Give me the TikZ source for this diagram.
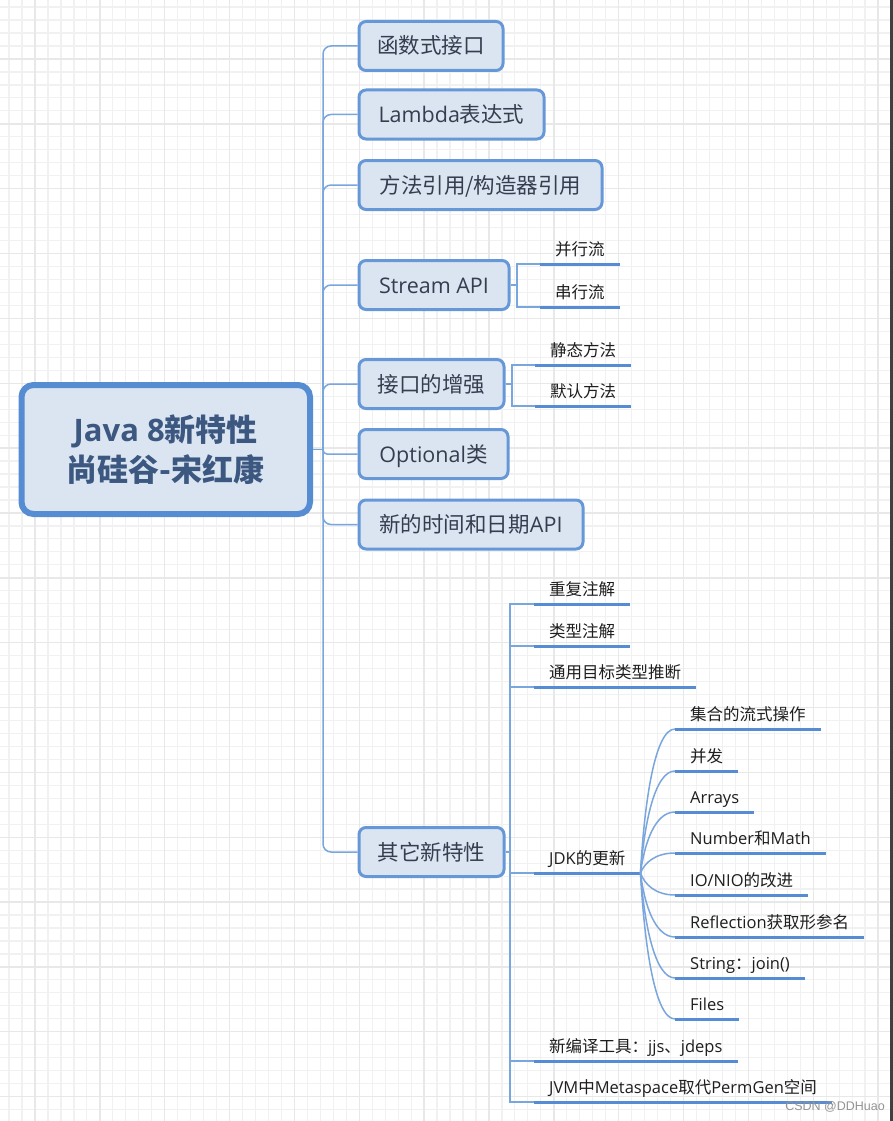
\documentclass[tikz,border=0pt]{standalone}
\usepackage{fontspec}
\setmainfont{Noto Sans CJK SC}
\newfontfamily\lat{Open Sans}
\newfontfamily\wmfont{Liberation Sans}
\newcommand{\ltn}[1]{{\lat #1}}

\definecolor{boxfill}{RGB}{219,229,242}
\definecolor{boxline}{RGB}{102,152,216}
\definecolor{rootline}{RGB}{86,140,210}
\definecolor{connline}{RGB}{122,166,222}
\definecolor{leafline}{RGB}{86,140,212}
\definecolor{boxtext}{RGB}{52,62,78}
\definecolor{roottext}{RGB}{60,88,128}
\definecolor{leaftext}{RGB}{30,30,30}
\definecolor{minorgrid}{RGB}{241,241,241}
\definecolor{majorgrid}{RGB}{232,232,232}

\tikzset{
  rootbox/.style={draw=rootline, line width=6pt, fill=boxfill, rounded corners=12pt,
    minimum width=288.5pt, minimum height=129pt, align=center, text=roottext,
    font=\bfseries\fontsize{31}{40}\selectfont},
  box/.style={draw=boxline, line width=3pt, fill=boxfill, rounded corners=7pt,
    minimum height=49pt, anchor=west, inner xsep=0pt, text=boxtext,
    text height=18pt, text depth=2pt, font=\fontsize{21.5}{25}\selectfont},
  leaf/.style={anchor=south west, inner xsep=15pt, inner ysep=8pt, text depth=0pt,
    text=leaftext, font=\fontsize{16.5}{20}\selectfont},
  conn/.style={draw=connline, line width=1.5pt},
  under/.style={draw=leafline, line width=3pt},
  wmark/.style={text=black!42, font=\wmfont\fontsize{12.5}{14}\selectfont}
}

\begin{document}
\begin{tikzpicture}[x=1pt, y=1pt, yscale=-1]
  % background and grid
  \fill[white] (0,0) rectangle (893,1121);
  \useasboundingbox (0,0) rectangle (893,1121);
  \begin{scope}[shift={(9.06,7.1)}]
    \draw[minorgrid, line width=1.2pt] (-9.06,-7.1) grid[step=12.97] (883.94,1113.9);
  \end{scope}
  \begin{scope}[shift={(35,59)}]
    \draw[majorgrid, line width=1.4pt] (-35,-59) grid[step=64.85] (858,1062);
  \end{scope}
  \fill[black!75] (890,0) rectangle (893,1121);

  % root and main topics
  \node[rootbox] (root) at (165.75,449.5) {\ltn{Java 8}新特性\\尚硅谷-宋红康};
  \node[box, minimum width=144pt] (func) at (357.5,46) {函数式接口};
  \node[box, minimum width=185pt] (lambda) at (357.5,114.5) {\ltn{Lambda}表达式};
  \node[box, minimum width=243pt] (mref) at (357.5,185) {方法引用/构造器引用};
  \node[box, minimum width=150pt] (stream) at (357.5,285) {\ltn{Stream API}};
  \node[box, minimum width=145pt] (iface) at (357.5,384) {接口的增强};
  \node[box, minimum width=149pt] (optional) at (357.5,454) {\ltn{Optional}类};
  \node[box, minimum width=224pt] (datetime) at (357.5,524.5) {新的时间和日期\ltn{API}};
  \node[box, minimum width=145pt] (other) at (357.5,852) {其它新特性};

  % trunk
  \coordinate (hub) at (323,449.5);
  \draw[conn] (root.east) -- (hub);
  \draw[conn, rounded corners=8pt] (hub) |- (func.west);
  \draw[conn, rounded corners=8pt] (hub) |- (lambda.west);
  \draw[conn, rounded corners=8pt] (hub) |- (mref.west);
  \draw[conn, rounded corners=8pt] (hub) |- (stream.west);
  \draw[conn, rounded corners=8pt] (hub) |- (iface.west);
  \draw[conn, rounded corners=4pt] (hub) |- (optional.west);
  \draw[conn, rounded corners=8pt] (hub) |- (datetime.west);
  \draw[conn, rounded corners=8pt] (hub) |- (other.west);

  % Stream API
  \node[leaf] (par) at (540,264) {并行流};
  \node[leaf] (seq) at (540,307) {串行流};
  \draw[conn] (stream.east) -- ++(6.5,0) |- (par.south west);
  \draw[conn] (stream.east) -- ++(6.5,0) |- (seq.south west);
  \draw[under] (par.south west) -- (par.south east);
  \draw[under] (seq.south west) -- (seq.south east);

  % interface
  \node[leaf] (static) at (535,365) {静态方法};
  \node[leaf] (default) at (535,406) {默认方法};
  \draw[conn] (iface.east) -- ++(6.5,0) |- (static.south west);
  \draw[conn] (iface.east) -- ++(6.5,0) |- (default.south west);
  \draw[under] (static.south west) -- (static.south east);
  \draw[under] (default.south west) -- (default.south east);

  % other features
  \node[leaf] (repeat) at (534,604) {重复注解};
  \node[leaf] (typeann) at (534,646) {类型注解};
  \node[leaf] (infer) at (534,687) {通用目标类型推断};
  \node[leaf] (jdk) at (534,873) {\ltn{JDK}的更新};
  \node[leaf] (tools) at (534,1061) {新编译工具：\ltn{jjs}、\ltn{jdeps}};
  \node[leaf] (jvm) at (534,1102) {\ltn{JVM}中\ltn{Metaspace}取代\ltn{PermGen}空间};
  \coordinate (ob) at (510,852);
  \draw[conn] (other.east) -- (ob);
  \draw[conn] (ob) |- (repeat.south west);
  \draw[conn] (ob) |- (typeann.south west);
  \draw[conn] (ob) |- (infer.south west);
  \draw[conn] (ob) |- (jdk.south west);
  \draw[conn] (ob) |- (tools.south west);
  \draw[conn] (ob) |- (jvm.south west);
  \draw[under] (repeat.south west) -- (repeat.south east);
  \draw[under] (typeann.south west) -- (typeann.south east);
  \draw[under] (infer.south west) -- (infer.south east);
  \draw[under] (jdk.south west) -- (jdk.south east);
  \draw[under] (tools.south west) -- (tools.south east);
  \draw[under] (jvm.south west) -- (jvm.south east);

  % JDK updates
  \node[leaf] (stream2) at (675,729) {集合的流式操作};
  \node[leaf] (conc) at (675,771) {并发};
  \node[leaf] (arrays) at (675,812) {\ltn{Arrays}};
  \node[leaf] (number) at (675,853) {\ltn{Number}和\ltn{Math}};
  \node[leaf] (nio) at (675,895) {\ltn{IO/NIO}的改进};
  \node[leaf] (refl) at (675,937) {\ltn{Reflection}获取形参名};
  \node[leaf] (join) at (675,978) {\ltn{String}：\ltn{join()}};
  \node[leaf] (files) at (675,1019) {\ltn{Files}};
  \draw[conn] (jdk.south east) .. controls +(4,-72) and +(-20,0) .. (stream2.south west);
  \draw[conn] (jdk.south east) .. controls +(4,-51) and +(-20,0) .. (conc.south west);
  \draw[conn] (jdk.south east) .. controls +(4,-30) and +(-20,0) .. (arrays.south west);
  \draw[conn] (jdk.south east) .. controls +(4,-10) and +(-20,0) .. (number.south west);
  \draw[conn] (jdk.south east) .. controls +(4,11) and +(-20,0) .. (nio.south west);
  \draw[conn] (jdk.south east) .. controls +(4,32) and +(-20,0) .. (refl.south west);
  \draw[conn] (jdk.south east) .. controls +(4,52) and +(-20,0) .. (join.south west);
  \draw[conn] (jdk.south east) .. controls +(4,73) and +(-20,0) .. (files.south west);
  \draw[under] (stream2.south west) -- (stream2.south east);
  \draw[under] (conc.south west) -- (conc.south east);
  \draw[under] (arrays.south west) -- (arrays.south east);
  \draw[under] (number.south west) -- (number.south east);
  \draw[under] (nio.south west) -- (nio.south east);
  \draw[under] (refl.south west) -- (refl.south east);
  \draw[under] (join.south west) -- (join.south east);
  \draw[under] (files.south west) -- (files.south east);

  % watermark
  \node[wmark] (csdn) at (835,1107) {CSDN @DDHuao};
\end{tikzpicture}
\end{document}
